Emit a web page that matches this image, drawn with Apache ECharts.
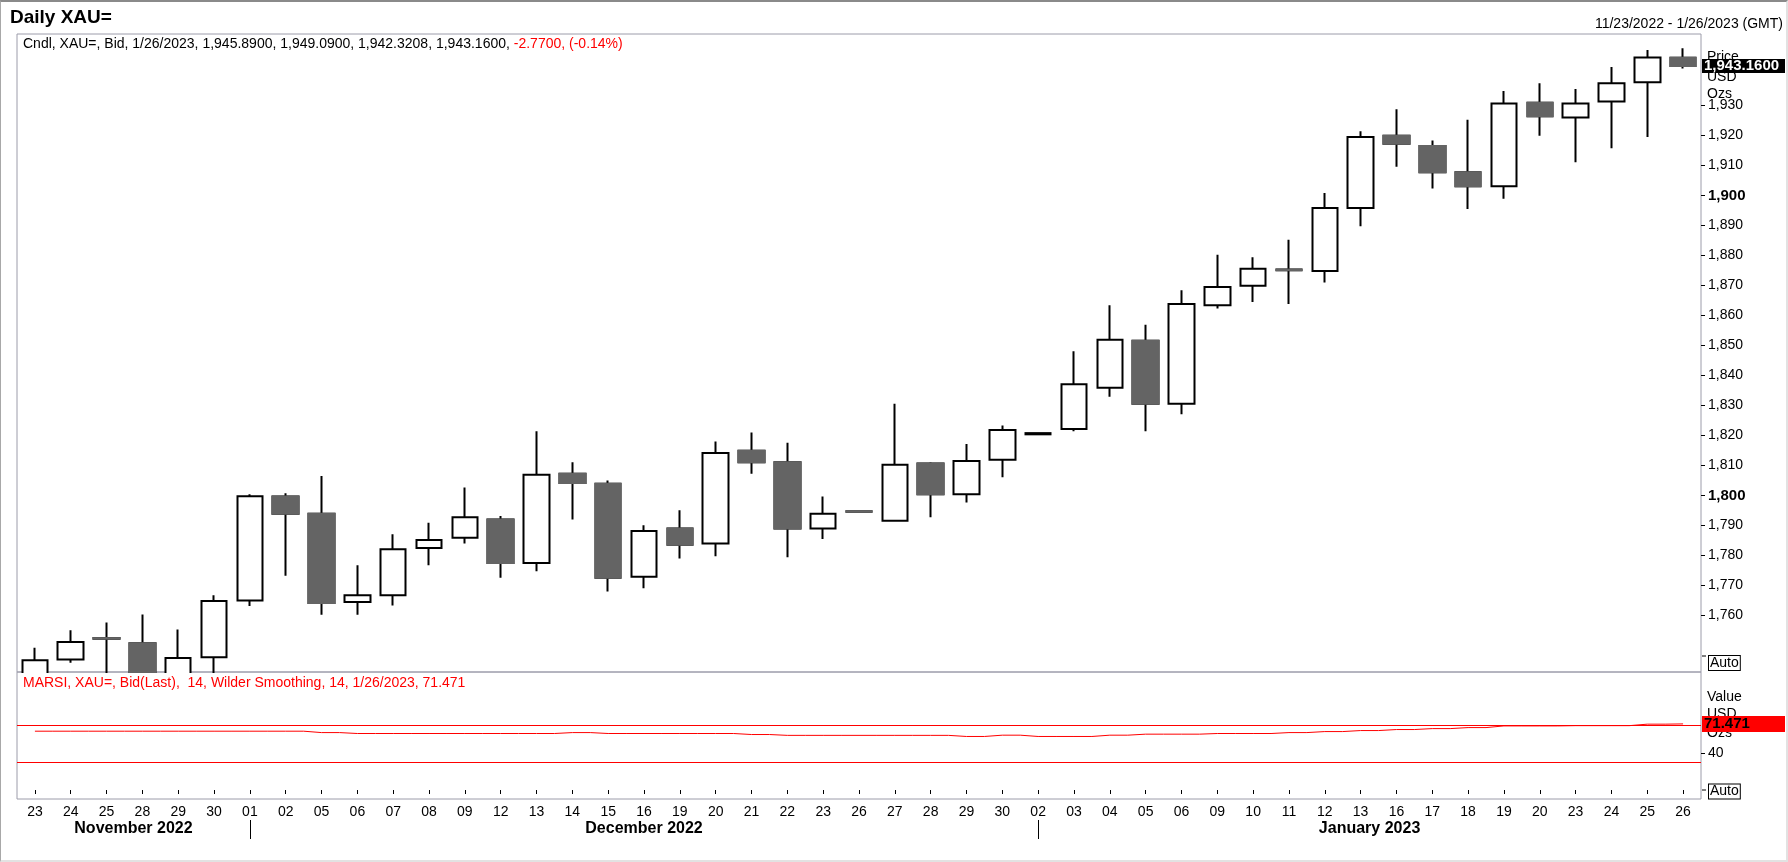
<!DOCTYPE html>
<html>
<head>
<meta charset="utf-8">
<title>Daily XAU=</title>
<script src="https://cdn.jsdelivr.net/npm/echarts@6/dist/echarts.min.js"></script>
<style>
html, body { margin: 0; padding: 0; background: #fff; }
#wrap { position: relative; width: 1788px; height: 862px; }
#main { width: 1788px; height: 862px; }
#frame { position: absolute; left: 0; top: 0; right: 0; bottom: 0; pointer-events: none;
  border-top: 2px solid #8a8a8a; border-left: 1px solid #a8a8a8;
  border-right: 2px solid #e2e2e2; border-bottom: 2px solid #e2e2e2; }
</style>
</head>
<body>
<div id="wrap"><div id="main"></div><div id="frame"></div></div>
<script>
// trading days shown on the chart
var dates = ['2022-11-23','2022-11-24','2022-11-25','2022-11-28','2022-11-29','2022-11-30',
  '2022-12-01','2022-12-02','2022-12-05','2022-12-06','2022-12-07','2022-12-08','2022-12-09',
  '2022-12-12','2022-12-13','2022-12-14','2022-12-15','2022-12-16','2022-12-19','2022-12-20',
  '2022-12-21','2022-12-22','2022-12-23','2022-12-26','2022-12-27','2022-12-28','2022-12-29',
  '2022-12-30','2023-01-02','2023-01-03','2023-01-04','2023-01-05','2023-01-06','2023-01-09',
  '2023-01-10','2023-01-11','2023-01-12','2023-01-13','2023-01-16','2023-01-17','2023-01-18',
  '2023-01-19','2023-01-20','2023-01-23','2023-01-24','2023-01-25','2023-01-26'];
var opens = [1738.5,1745.4,1752.5,1750.8,1738.2,1746.1,1765.0,1799.7,1793.9,1764.5,1766.8,1782.5,1785.9,
  1792.0,1777.5,1807.3,1803.9,1772.9,1789.0,1784.0,1814.9,1811.1,1789.0,1794.8,1791.6,1810.7,1800.4,
  1811.9,1820.4,1822.2,1835.9,1851.6,1830.6,1863.4,1869.9,1875.3,1874.8,1895.8,1919.9,1916.5,1907.7,
  1903.1,1930.9,1926.0,1931.3,1937.7,1945.89];
var closes = [1745.1,1751.2,1752.3,1738.0,1745.9,1764.9,1799.8,1793.9,1764.2,1766.8,1782.1,1785.2,1792.8,
  1777.5,1806.9,1804.2,1772.6,1788.2,1783.6,1814.2,1811.1,1789.0,1793.9,1794.6,1810.3,1800.4,1811.5,
  1821.8,1820.8,1837.1,1851.9,1830.6,1863.8,1869.5,1875.6,1875.1,1895.8,1919.5,1917.2,1907.7,1903.1,
  1930.6,1926.4,1930.6,1937.4,1945.93,1943.16];
var lows = [1735.0,1744.3,1737.0,1736.0,1736.0,1740.0,1763.2,1773.3,1760.3,1760.3,1763.4,1776.8,1784.0,
  1772.6,1774.8,1792.0,1768.0,1769.1,1779.0,1779.8,1807.3,1779.4,1785.5,1794.5,1791.5,1792.8,1797.7,
  1806.1,1820.4,1821.4,1832.9,1821.4,1827.1,1862.3,1864.5,1863.8,1871.0,1889.7,1909.6,1902.3,1895.5,
  1898.9,1919.9,1911.1,1915.7,1919.5,1942.3208];
var highs = [1749.3,1755.1,1757.7,1760.4,1755.4,1766.8,1800.4,1800.8,1806.5,1776.8,1787.1,1790.9,1802.7,
  1793.2,1821.4,1811.1,1805.0,1790.1,1795.1,1818.0,1821.0,1817.6,1799.7,1794.9,1830.6,1811.1,1817.2,
  1823.3,1820.8,1848.1,1863.4,1856.9,1868.4,1880.2,1879.4,1885.2,1900.8,1921.4,1928.7,1918.3,1925.2,
  1934.8,1937.4,1935.5,1942.8,1948.5,1949.09];
// MARSI (14, Wilder smoothing)
var rsiValues = [63.6,63.6,63.6,63.6,63.6,63.6,63.6,63.6,62.1,61.1,61.1,61.1,61.1,61.1,61.1,62.1,
  61.1,61.1,61.1,61.1,60.0,59.1,59.1,59.1,59.1,59.1,57.9,59.3,57.9,57.9,59.3,60.4,60.4,61.1,61.1,
  62.1,63.2,64.3,65.4,66.4,67.5,69.3,69.3,69.6,69.6,71.2,71.471];
var rsiBands = [70, 30];
var priceTicks = [1760,1770,1780,1790,1800,1810,1820,1830,1840,1850,1860,1870,1880,1890,1900,1910,1920,1930];
var rsiTicks = [40];
var priceRange = [1741.2, 1953.8];
var rsiRange = [-9.7, 127.6];
var monthNames = ['January','February','March','April','May','June','July','August','September','October','November','December'];

var font = '"Liberation Sans", Arial, sans-serif';
var last = dates.length - 1;

function fmt(v, d) {
    return v.toLocaleString('en-US', {minimumFractionDigits: d, maximumFractionDigits: d});
}
function usDate(s) {
    var p = s.split('-');
    return parseInt(p[1], 10) + '/' + parseInt(p[2], 10) + '/' + p[0];
}

var candleData = [], bodyData = [];
for (var i = 0; i < dates.length; i++) {
    candleData.push([opens[i], closes[i], lows[i], highs[i]]);
    bodyData.push([opens[i], closes[i], Math.min(opens[i], closes[i]), Math.max(opens[i], closes[i])]);
}

var chg = closes[last] - closes[last - 1];
var pct = chg / closes[last - 1] * 100;
var legendBlack = 'Cndl, XAU=, Bid, ' + usDate(dates[last]) + ', ' + fmt(opens[last], 4) + ', ' +
    fmt(highs[last], 4) + ', ' + fmt(lows[last], 4) + ', ' + fmt(closes[last], 4) + ', ';
var legendRed = fmt(chg, 4) + ', (' + pct.toFixed(2) + '%)';
var marsiText = 'MARSI, XAU=, Bid(Last),  14, Wilder Smoothing, 14, ' + usDate(dates[last]) + ', ' + rsiValues[last].toFixed(3);

var chart = echarts.init(document.getElementById('main'));

var option = {
    animation: false,
    backgroundColor: '#fff',
    textStyle: {fontFamily: font},
    title: [
        {text: 'Daily XAU=', left: 10, top: 8, padding: 0,
         textStyle: {fontSize: 19, fontWeight: 'bold', color: '#000', fontFamily: font}},
        {text: usDate(dates[0]) + ' - ' + usDate(dates[last]) + ' (GMT)', right: 5, top: 17, padding: 0,
         textStyle: {fontSize: 14, fontWeight: 'normal', color: '#000', fontFamily: font}},
        {text: '{k|' + legendBlack + '}{r|' + legendRed + '}', left: 23, top: 37, padding: 0,
         textStyle: {fontWeight: 'normal', rich: {
             k: {fontSize: 14, fontWeight: 'normal', color: '#000', fontFamily: font},
             r: {fontSize: 14, fontWeight: 'normal', color: '#ff0000', fontFamily: font}
         }}},
        {text: marsiText, left: 23, top: 676, padding: 0,
         textStyle: {fontSize: 14, fontWeight: 'normal', color: '#ff0000', fontFamily: font}}
    ],
    grid: [
        {left: 17, right: 87, top: 34, height: 638, show: true, borderColor: '#9c9caa', borderWidth: 1},
        {left: 17, right: 87, top: 672, height: 127, show: true, borderColor: '#9c9caa', borderWidth: 1}
    ],
    xAxis: [
        {type: 'category', gridIndex: 0, data: dates, boundaryGap: true,
         axisLine: {show: false}, axisTick: {show: false}, axisLabel: {show: false}, splitLine: {show: false}},
        {type: 'category', gridIndex: 1, data: dates, boundaryGap: true,
         axisLine: {show: false},
         axisTick: {show: true, alignWithLabel: true, length: 4, lineStyle: {color: '#000'}},
         axisLabel: {interval: 0, margin: 6, fontSize: 14, color: '#000', fontFamily: font,
                     formatter: function (v) { return v.slice(8); }},
         splitLine: {show: false}}
    ],
    yAxis: [
        {type: 'value', gridIndex: 0, position: 'right', min: priceRange[0], max: priceRange[1],
         axisLine: {show: false},
         axisTick: {show: true, length: 4, customValues: priceTicks, lineStyle: {color: '#000'}},
         axisLabel: {customValues: priceTicks, margin: 7, fontSize: 14, color: '#000', fontFamily: font,
                     formatter: function (v) {
                         var s = fmt(v, 0);
                         return v % 100 === 0 ? '{b|' + s + '}' : s;
                     },
                     rich: {b: {fontSize: 15, fontWeight: 'bold', color: '#000', fontFamily: font}}},
         splitLine: {show: false}},
        {type: 'value', gridIndex: 1, position: 'right', min: rsiRange[0], max: rsiRange[1],
         axisLine: {show: false},
         axisTick: {show: true, length: 4, customValues: rsiTicks, lineStyle: {color: '#000'}},
         axisLabel: {customValues: rsiTicks, margin: 7, fontSize: 14, color: '#000', fontFamily: font},
         splitLine: {show: false}}
    ],
    series: [
        {
            name: 'XAU=', type: 'candlestick', xAxisIndex: 0, yAxisIndex: 0,
            data: candleData, barWidth: 26, z: 2, clip: true,
            itemStyle: {color: '#ffffff', color0: '#646464', borderColor: '#000000', borderColor0: '#000000', borderWidth: 2},
            markLine: {
                silent: true, symbol: ['none', 'none'], animation: false,
                lineStyle: {color: 'rgba(0,0,0,0)', width: 0},
                label: {show: true, position: 'end', distance: 1,
                        formatter: fmt(closes[last], 4),
                        color: '#fff', backgroundColor: '#000', fontWeight: 'bold', fontSize: 15,
                        fontFamily: font, lineHeight: 14, width: 79, padding: [0, 2]},
                data: [{yAxis: closes[last]}]
            }
        },
        {
            // bodies of falling candles drawn again so that they have no black edge
            name: 'XAU= body', type: 'candlestick', xAxisIndex: 0, yAxisIndex: 0,
            data: bodyData, barWidth: 26, z: 3, silent: true, clip: true,
            itemStyle: {color: 'rgba(0,0,0,0)', color0: '#646464', borderColor: 'rgba(0,0,0,0)', borderColor0: '#646464', borderWidth: 2}
        },
        {
            name: 'MARSI', type: 'line', xAxisIndex: 1, yAxisIndex: 1,
            data: rsiValues, step: 'middle', showSymbol: false, symbol: 'none',
            lineStyle: {color: '#ff0000', width: 1},
            markLine: {
                silent: true, symbol: ['none', 'none'], animation: false,
                lineStyle: {color: '#ff0000', width: 1, type: 'solid'},
                label: {show: false},
                data: [
                    {yAxis: rsiBands[0]},
                    {yAxis: rsiBands[1]},
                    {yAxis: rsiValues[last], lineStyle: {color: 'rgba(0,0,0,0)', width: 0},
                     label: {show: true, position: 'end', distance: 1,
                             formatter: rsiValues[last].toFixed(3),
                             color: '#000', backgroundColor: '#ff0000', fontWeight: 'bold', fontSize: 15,
                             fontFamily: font, lineHeight: 16, width: 79, padding: [0, 2]}}
                ]
            }
        }
    ]
};

chart.setOption(option);

// annotations beside the axes and the month row under the dates
function xPix(i) {
    var r = chart.convertToPixel({xAxisIndex: 1}, i);
    return Array.isArray(r) ? r[0] : r;
}
function sideText(t, y) {
    return {type: 'text', x: 1707, y: y, z: 0,
            style: {text: t, font: '14px ' + font, fill: '#000', verticalAlign: 'middle'}};
}
function autoBox(y, tickY) {
    return [
        {type: 'line', z: 0, shape: {x1: 1702, y1: tickY, x2: 1706, y2: tickY}, style: {stroke: '#000', lineWidth: 1}},
        {type: 'text', x: 1709, y: y, z: 0,
         style: {text: 'Auto', font: '14px ' + font, fill: '#000', verticalAlign: 'middle',
                 borderColor: '#000', borderWidth: 1, padding: [0, 1, 0, 1], backgroundColor: '#fff'}}
    ];
}

var g = [];
g.push(sideText('Price', 57), sideText('USD', 77), sideText('Ozs', 94));
g.push(sideText('Value', 697), sideText('USD', 714), sideText('Ozs', 733));
g = g.concat(autoBox(663, 656), autoBox(791.5, 790));

// candlesticks are not cut at the pane edge, so hide what runs into the lower pane
var paneBottom = chart.convertToPixel({yAxisIndex: 0}, priceRange[0]);
g.push({type: 'rect', z: 4, silent: true,
        shape: {x: 18, y: paneBottom + 1, width: 400, height: 26},
        style: {fill: '#fff'}});

var band = xPix(1) - xPix(0);
var leftEdge = xPix(0) - band / 2, rightEdge = xPix(last) + band / 2;
var starts = [0];
for (var j = 1; j < dates.length; j++) {
    if (dates[j].slice(0, 7) !== dates[j - 1].slice(0, 7)) starts.push(j);
}
for (var m = 0; m < starts.length; m++) {
    var s = starts[m];
    var a = m === 0 ? leftEdge : xPix(s);
    var b = m === starts.length - 1 ? rightEdge : xPix(starts[m + 1]);
    var ym = dates[s].split('-');
    if (m > 0) {
        g.push({type: 'line', shape: {x1: Math.round(a) + 0.5, y1: 820, x2: Math.round(a) + 0.5, y2: 839},
                style: {stroke: '#000', lineWidth: 1}});
    }
    g.push({type: 'text', x: (a + b) / 2, y: 829,
            style: {text: monthNames[parseInt(ym[1], 10) - 1] + ' ' + ym[0], font: 'bold 16px ' + font,
                    fill: '#000', align: 'center', verticalAlign: 'middle'}});
}

chart.setOption({graphic: {elements: g}});
</script>
</body>
</html>
